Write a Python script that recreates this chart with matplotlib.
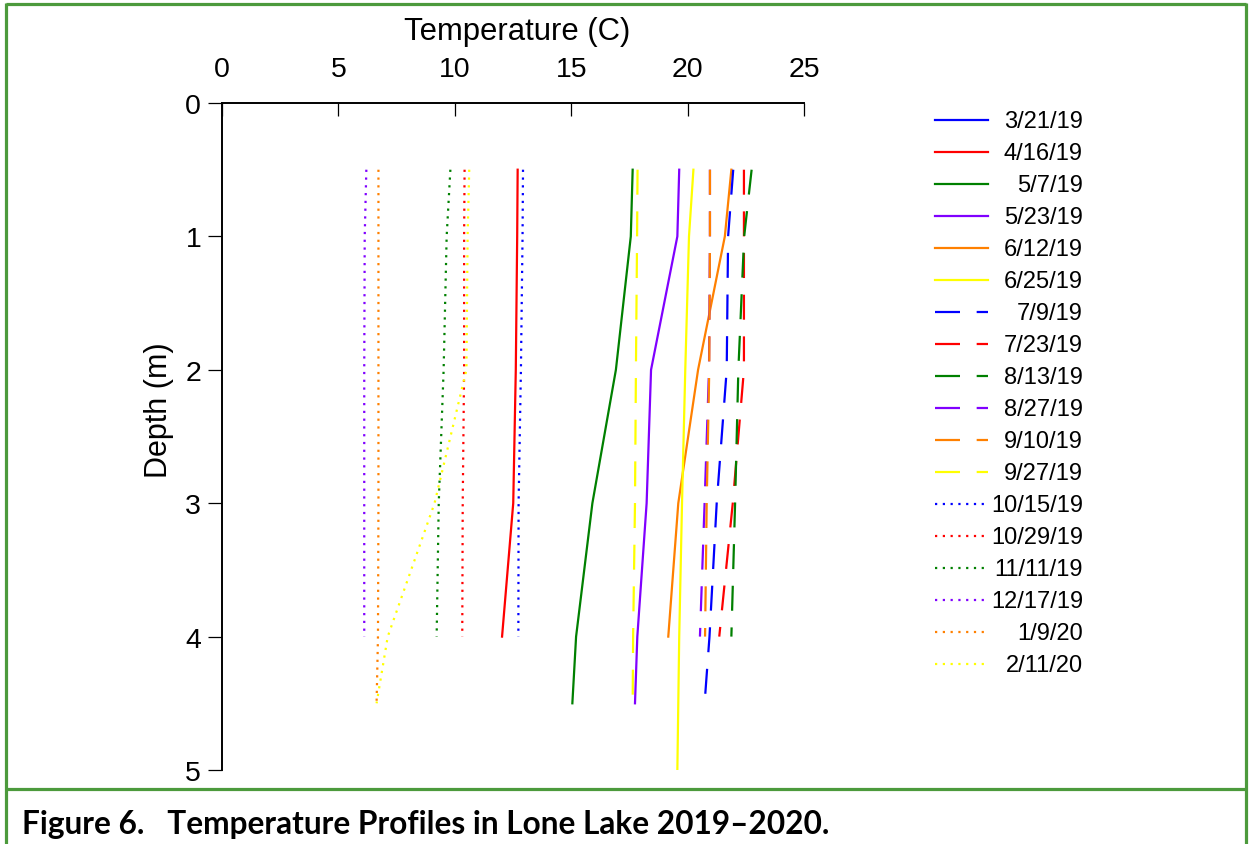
import matplotlib
matplotlib.use("Agg")
import matplotlib.pyplot as plt
from matplotlib.lines import Line2D

# ---------------- data ----------------
dates = ["3/21/19", "4/16/19", "5/7/19", "5/23/19", "6/12/19", "6/25/19",
         "7/9/19", "7/23/19", "8/13/19", "8/27/19", "9/10/19", "9/27/19",
         "10/15/19", "10/29/19", "11/11/19", "12/17/19", "1/9/20", "2/11/20"]

d5 = [0.5, 1, 2, 3, 4]
d6 = [0.5, 1, 2, 3, 4, 4.5]
d7 = [0.5, 1, 2, 3, 4, 4.5, 5]

depth_3_21_19 = []
temp_3_21_19 = []
depth_4_16_19 = d5
temp_4_16_19 = [12.70, 12.68, 12.62, 12.51, 12.03]
depth_5_7_19 = d6
temp_5_7_19 = [17.64, 17.56, 16.92, 15.91, 15.21, 15.05]
depth_5_23_19 = d6
temp_5_23_19 = [19.64, 19.56, 18.43, 18.24, 17.84, 17.74]
depth_6_12_19 = d5
temp_6_12_19 = [21.88, 21.60, 20.45, 19.60, 19.17]
depth_6_25_19 = d7
temp_6_25_19 = [20.25, 20.06, 19.90, 19.76, 19.64, 19.60, 19.56]
depth_7_9_19 = d6
temp_7_9_19 = [21.96, 21.74, 21.68, 21.25, 20.94, 20.73]
depth_7_23_19 = d5
temp_7_23_19 = [22.42, 22.42, 22.42, 21.94, 21.36]
depth_8_13_19 = d5
temp_8_13_19 = [22.75, 22.43, 22.18, 22.04, 21.88]
depth_8_27_19 = d5
temp_8_27_19 = [20.96, 20.96, 20.92, 20.73, 20.53]
depth_9_10_19 = d5
temp_9_10_19 = [20.96, 20.96, 20.93, 20.82, 20.75]
depth_9_27_19 = d6
temp_9_27_19 = [17.85, 17.83, 17.78, 17.74, 17.66, 17.64]
depth_10_15_19 = d5
temp_10_15_19 = [12.93, 12.91, 12.84, 12.74, 12.73]
depth_10_29_19 = d5
temp_10_29_19 = [10.42, 10.40, 10.40, 10.34, 10.32]
depth_11_11_19 = d5
temp_11_11_19 = [9.81, 9.65, 9.52, 9.31, 9.22]
depth_12_17_19 = d5
temp_12_17_19 = [6.20, 6.13, 6.11, 6.11, 6.11]
depth_1_9_20 = d6
temp_1_9_20 = [6.72, 6.72, 6.72, 6.72, 6.70, 6.64]
depth_2_11_20 = d6
temp_2_11_20 = [10.62, 10.55, 10.50, 9.13, 7.12, 6.64]

series_depths = [depth_3_21_19, depth_4_16_19, depth_5_7_19, depth_5_23_19,
                 depth_6_12_19, depth_6_25_19, depth_7_9_19, depth_7_23_19,
                 depth_8_13_19, depth_8_27_19, depth_9_10_19, depth_9_27_19,
                 depth_10_15_19, depth_10_29_19, depth_11_11_19, depth_12_17_19,
                 depth_1_9_20, depth_2_11_20]
series_temps = [temp_3_21_19, temp_4_16_19, temp_5_7_19, temp_5_23_19,
                temp_6_12_19, temp_6_25_19, temp_7_9_19, temp_7_23_19,
                temp_8_13_19, temp_8_27_19, temp_9_10_19, temp_9_27_19,
                temp_10_15_19, temp_10_29_19, temp_11_11_19, temp_12_17_19,
                temp_1_9_20, temp_2_11_20]

x_ticks = [0, 5, 10, 15, 20, 25]
y_ticks = [0, 1, 2, 3, 4, 5]

# ---------------- styles ----------------
palette = ["#0000FF", "#FF0000", "#008000", "#8000FF", "#FF8000", "#FFFF00"]
LW = 1.6
dash_style = (0, (11.25, 7.5))
dot_style = (0, (1.0, 2.5))
styles = ["-"] * 6 + [dash_style] * 6 + [dot_style] * 6
colors = palette * 3

W, H = 1249, 845
DPI = 100
fig = plt.figure(figsize=(W / DPI, H / DPI), dpi=DPI)

def fx(px):
    return px / W

def fy(py):
    return 1 - py / H

main_font = ["Liberation Sans", "DejaVu Sans"]

ax = fig.add_axes([fx(222), fy(771), fx(804) - fx(222), fy(104) - fy(771)])
for dep, tmp, c, ls in zip(series_depths, series_temps, colors, styles):
    ax.plot(tmp, dep, color=c, linestyle=ls, linewidth=LW)

ax.set_xlim(0, 25)
ax.set_ylim(5, 0)
ax.xaxis.tick_top()
ax.xaxis.set_label_position("top")
ax.set_xticks(x_ticks)
ax.set_yticks(y_ticks)
ax.set_xticklabels([str(v) for v in x_ticks])
ax.set_yticklabels([str(v) for v in y_ticks])
for s in ["bottom", "right"]:
    ax.spines[s].set_visible(False)
for s in ["top", "left"]:
    ax.spines[s].set_linewidth(1.4)
ax.tick_params(axis="x", direction="in", length=9.5, width=0.9, pad=15,
               labelsize=20.5, colors="black")
ax.tick_params(axis="y", direction="out", length=10, width=0.9, pad=5,
               labelsize=20.5, colors="black")
for lab in ax.get_xticklabels() + ax.get_yticklabels():
    lab.set_family(main_font)

ax.set_xlabel("Temperature (C)", fontsize=22.3, family=main_font)
ax.set_ylabel("Depth (m)", fontsize=22, family=main_font)
ax.xaxis.set_label_coords((517.5 - 222) / 582, (104 - 32) / 667 + 1)
ax.yaxis.set_label_coords((159 - 222) / 582, 1 - (410 - 104) / 667)
ax.xaxis.label.set_va("center")
ax.yaxis.label.set_va("center")

# ---------------- legend (manual) ----------------
leg_y0, leg_dy = 121, 32
for i, (lab, c, ls) in enumerate(zip(dates, colors, styles)):
    yy = leg_y0 + i * leg_dy
    x1 = 988 if ls != dot_style else 985
    fig.add_artist(Line2D([fx(935), fx(x1)], [fy(yy), fy(yy)], color=c,
                          linestyle=ls, linewidth=LW, transform=fig.transFigure))
    fig.text(fx(1083), fy(yy + 1), lab, ha="right", va="center", fontsize=17,
             family=main_font)

# ---------------- frame and caption ----------------
frame_c = "#4C9A3C"
flw = 2.3
fig.add_artist(Line2D([fx(6), fx(1246)], [fy(5), fy(5)], color=frame_c, linewidth=flw,
                      transform=fig.transFigure, solid_capstyle="butt"))
fig.add_artist(Line2D([fx(6), fx(1246)], [fy(790), fy(790)], color=frame_c, linewidth=flw,
                      transform=fig.transFigure, solid_capstyle="butt"))
fig.add_artist(Line2D([fx(6), fx(6)], [fy(4), fy(845)], color=frame_c, linewidth=flw,
                      transform=fig.transFigure, solid_capstyle="butt"))
fig.add_artist(Line2D([fx(1246), fx(1246)], [fy(4), fy(845)], color=frame_c, linewidth=flw,
                      transform=fig.transFigure, solid_capstyle="butt"))

cap_font = ["Lato", "Liberation Sans", "DejaVu Sans"]
caption = "Figure 6.   Temperature Profiles in Lone Lake 2019\u20132020."
cap = fig.text(fx(22), fy(834), caption, ha="left", va="baseline",
               fontsize=22, fontweight="bold", family=cap_font)
renderer = fig.canvas.get_renderer()
bb = cap.get_window_extent(renderer=renderer)
target = 808.0
cap.set_fontsize(22 * target / bb.width)

fig.savefig("out.png", dpi=DPI)
